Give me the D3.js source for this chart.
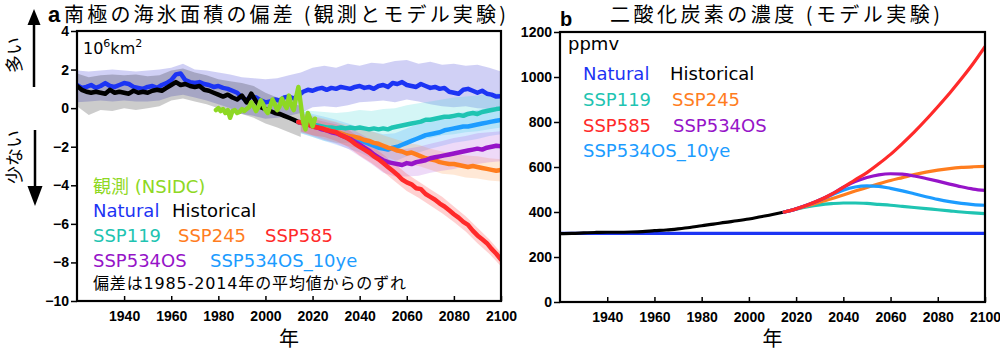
<!DOCTYPE html>
<html><head><meta charset="utf-8">
<script src="https://cdn.jsdelivr.net/npm/d3@7"></script>
<style>body{margin:0;background:#fff}svg{display:block}</style>
</head><body><svg id="c" width="1000" height="353"></svg>
<script>
// ---------------- DATA: panel a (sea-ice extent anomaly, 10^6 km2) ----------------
const iceStart = 1920, iceStep = 2;
const naturalIce = [
 1.20,1.05,1.10,1.20,1.05,1.15,1.30,1.15,1.10,1.20,
 1.30,1.25,1.10,1.05,1.00,1.10,1.15,1.05,1.20,1.30,
 1.45,1.75,1.80,1.45,1.35,1.30,1.35,1.25,1.20,1.10,
 1.15,1.05,1.00,0.90,0.80,0.55,0.42,0.60,0.55,0.40,
 0.30,0.35,0.45,0.40,0.55,0.60,0.50,0.65,0.85,0.95,
 0.90,1.00,1.05,0.95,1.05,1.00,1.10,1.05,1.00,1.10,
 1.15,1.05,1.10,1.00,1.15,1.20,1.10,1.30,1.25,1.35,
 1.20,1.15,1.10,1.25,1.15,1.05,1.10,1.00,1.05,0.85,
 0.80,0.75,0.95,1.00,0.90,0.80,0.90,0.75,0.70,0.60,
 0.62];
const historicalIce = [
 1.15,0.95,0.85,0.80,0.85,0.80,0.75,0.95,0.80,0.85,
 0.80,0.75,0.90,0.80,0.85,0.80,0.90,0.95,0.90,1.05,
 1.20,1.35,1.20,1.25,1.15,1.10,1.15,0.95,0.90,0.80,
 0.70,0.60,0.70,0.55,0.45,0.65,0.30,0.75,0.35,0.05,
 -0.05,-0.15,-0.25,-0.30,-0.40,-0.50,-0.60,-0.72];
const sspStart = 2014;
const ssp119Ice = [
 -0.72,-0.75,-0.80,-0.85,-0.90,-0.95,-1.00,-1.00,-1.05,-1.00,
 -1.05,-1.00,-1.05,-1.00,-1.05,-1.10,-1.05,-1.10,-1.05,-1.10,
 -1.00,-0.95,-0.90,-0.85,-0.80,-0.75,-0.70,-0.60,-0.60,-0.55,
 -0.50,-0.45,-0.45,-0.40,-0.35,-0.40,-0.30,-0.25,-0.30,-0.20,
 -0.15,-0.10,-0.05,-0.02];
const ssp245Ice = [
 -0.72,-0.80,-0.85,-0.90,-1.00,-1.05,-1.10,-1.20,-1.25,-1.30,
 -1.40,-1.45,-1.50,-1.55,-1.65,-1.70,-1.80,-1.85,-1.95,-2.05,
 -2.10,-2.20,-2.25,-2.35,-2.30,-2.40,-2.50,-2.60,-2.65,-2.70,
 -2.80,-2.85,-2.90,-2.90,-2.95,-3.00,-3.05,-3.00,-3.05,-3.10,
 -3.15,-3.20,-3.25,-3.20];
const ssp585Ice = [
 -0.72,-0.75,-0.85,-0.95,-1.00,-1.05,-1.15,-1.20,-1.25,-1.40,
 -1.50,-1.65,-1.85,-2.00,-2.15,-2.30,-2.50,-2.65,-2.85,-3.05,
 -3.25,-3.45,-3.70,-3.85,-3.95,-4.15,-4.20,-4.45,-4.60,-4.75,
 -4.95,-5.10,-5.30,-5.50,-5.68,-5.90,-6.05,-6.35,-6.60,-6.80,
 -7.00,-7.30,-7.55,-7.85];
const ssp534Ice = [
 -0.72,-0.78,-0.85,-0.95,-1.00,-1.10,-1.15,-1.25,-1.30,-1.40,
 -1.50,-1.60,-1.75,-1.90,-2.05,-2.20,-2.40,-2.55,-2.70,-2.80,
 -2.85,-2.90,-2.95,-2.85,-2.90,-2.80,-2.75,-2.70,-2.60,-2.55,
 -2.50,-2.45,-2.40,-2.35,-2.30,-2.25,-2.20,-2.15,-2.10,-2.15,
 -2.05,-2.00,-1.95,-1.97];
const ssp534_10Ice = [
 -0.72,-0.78,-0.85,-0.90,-0.95,-1.05,-1.10,-1.20,-1.25,-1.35,
 -1.40,-1.50,-1.55,-1.65,-1.75,-1.85,-1.95,-2.05,-2.10,-2.15,
 -2.05,-2.00,-1.90,-1.80,-1.70,-1.60,-1.50,-1.40,-1.35,-1.30,
 -1.25,-1.15,-1.10,-1.05,-1.00,-0.95,-0.95,-0.90,-0.85,-0.80,
 -0.75,-0.70,-0.65,-0.62];
const obsStart = 1979;
const obsIce = [
 -0.10,0.00,-0.15,-0.05,-0.25,-0.10,-0.50,-0.15,-0.10,-0.25,
 -0.20,-0.05,-0.15,-0.05,0.05,0.30,0.10,-0.15,0.05,0.40,
 0.20,-0.10,-0.25,0.10,0.45,0.20,-0.10,0.10,0.50,0.20,
 0.00,0.65,0.15,-0.10,0.55,1.10,0.20,-0.70,-1.10,-0.25,
 -0.55,-0.95,-0.55];
// spread bands (every 5 years)
const bandStep = 5;
const naturalBandStart = 1920;
const naturalHi = [1.95,1.90,1.95,2.00,1.95,1.90,1.95,2.00,2.10,2.30,2.00,1.95,1.85,1.75,1.60,1.55,1.50,1.55,1.70,1.85,
 2.10,2.20,2.10,2.30,2.20,2.35,2.30,2.45,2.50,2.30,2.40,2.25,2.30,2.20,2.25,2.10,1.90];
const naturalLo = [0.30,0.35,0.40,0.35,0.40,0.35,0.35,0.40,0.60,0.70,0.55,0.40,0.20,0.00,-0.30,-0.40,-0.55,-0.50,-0.40,-0.25,
 0.05,0.10,0.05,0.15,0.30,0.35,0.40,0.30,0.45,0.35,0.20,0.10,0.05,0.10,0.00,-0.05,-0.10];
const historicalBandStart = 1920;
const historicalHi = [1.80,1.60,1.70,1.75,1.70,1.75,1.65,1.70,1.95,2.05,1.85,1.70,1.50,1.40,1.30,1.15,0.80,0.55,0.35,0.10];
const historicalLo = [0.10,-0.35,-0.10,-0.15,0.00,-0.10,0.00,0.10,0.40,0.50,0.35,0.20,0.00,-0.15,-0.30,-0.50,-0.80,-1.00,-1.25,-1.50];
const sspBandStart = 2015;
const ssp119Hi = [-0.10,-0.15,-0.20,-0.25,-0.20,-0.10,-0.15,-0.05,0.00,0.15,0.25,0.35,0.45,0.55,0.60,0.65,0.75,0.80];
const ssp119Lo = [-1.30,-1.50,-1.70,-1.80,-1.80,-1.85,-1.95,-1.95,-1.90,-1.80,-1.65,-1.55,-1.40,-1.35,-1.25,-1.20,-1.10,-1.00];
const ssp534_10Hi = [-0.15,-0.30,-0.45,-0.60,-0.80,-1.00,-1.20,-1.35,-1.30,-1.05,-0.80,-0.60,-0.45,-0.30,-0.20,-0.10,0.00,0.05];
const ssp534_10Lo = [-1.30,-1.50,-1.70,-1.90,-2.10,-2.30,-2.60,-2.80,-2.75,-2.50,-2.30,-2.10,-1.95,-1.80,-1.70,-1.60,-1.45,-1.35];
const ssp245Hi = [-0.25,-0.40,-0.55,-0.70,-0.90,-1.00,-1.20,-1.40,-1.60,-1.80,-1.90,-2.10,-2.25,-2.35,-2.45,-2.50,-2.60,-2.65];
const ssp245Lo = [-1.25,-1.40,-1.60,-1.80,-1.95,-2.10,-2.30,-2.50,-2.70,-2.90,-3.00,-3.20,-3.40,-3.45,-3.60,-3.65,-3.75,-3.80];
const ssp534Hi = [-0.25,-0.45,-0.60,-0.75,-1.00,-1.30,-1.65,-2.00,-2.15,-2.10,-2.00,-1.85,-1.70,-1.55,-1.45,-1.30,-1.25,-1.20];
const ssp534Lo = [-1.25,-1.45,-1.65,-1.85,-2.10,-2.50,-2.90,-3.35,-3.55,-3.55,-3.50,-3.35,-3.25,-3.15,-3.00,-2.90,-2.80,-2.75];
const ssp585Hi = [-0.30,-0.55,-0.70,-0.85,-1.10,-1.55,-1.95,-2.40,-2.90,-3.40,-3.80,-4.20,-4.60,-5.10,-5.60,-6.20,-6.80,-7.50];
const ssp585Lo = [-1.20,-1.40,-1.50,-1.70,-2.00,-2.45,-2.85,-3.30,-3.80,-4.30,-4.65,-5.05,-5.45,-5.90,-6.40,-7.00,-7.55,-8.20];
const iceYTicks = [4,2,0,-2,-4,-6,-8,-10];
const yearTicks = [1940,1960,1980,2000,2020,2040,2060,2080,2100];

// ---------------- DATA: panel b (CO2 concentration, ppmv) ----------------
const co2NaturalYears = [1920, 2100];
const co2Natural = [305, 305];
const co2HistYears = [1920,1925,1930,1935,1940,1945,1950,1955,1960,1965,1970,1975,1980,1985,1990,1995,2000,2005,2010,2015];
const co2Hist = [304,305,307,309,310,310,311,313,317,320,325,331,339,346,354,361,369,379,389,400];
const co2SspYears = [2015,2020,2025,2030,2035,2040,2045,2050,2055,2060,2065,2070,2075,2080,2085,2090,2095,2100];
const co2Ssp119 = [400,413,424,432,437,440,440,438,434,430,425,420,415,410,405,400,396,393];
const co2Ssp245 = [400,413,428,444,459,476,493,509,525,540,553,566,577,586,593,598,601,603];
const co2Ssp585 = [400,414,432,453,479,510,543,575,614,656,704,755,810,868,928,992,1060,1135];
const co2Ssp534 = [400,414,432,453,479,510,535,553,565,570,568,560,549,537,524,512,502,496];
const co2Ssp534_10 = [400,414,432,453,475,497,511,516,514,505,494,481,468,456,446,438,433,430];
const co2YTicks = [0,200,400,600,800,1000,1200];

// ---------------- COLOURS ----------------
const C = {natural:"#1c34f4", hist:"#000000", s119:"#1fc4b2", s245:"#ff7d1e", s585:"#ff2a2a",
           s534:"#9614c8", s534_10:"#1c9cff", obs:"#8ed824"};
const BAND = {natural:"rgba(110,110,225,0.32)", hist:"rgba(0,0,0,0.2)", s119:"rgba(60,215,215,0.22)",
              s534_10:"rgba(60,160,255,0.22)", s245:"rgba(255,150,70,0.22)", s534:"rgba(170,70,220,0.2)",
              s585:"rgba(255,70,70,0.25)"};

const svg = d3.select("#c");
const pts = (start, step, arr) => arr.map((v,i)=>[start+i*step, v]);
const zipPts = (xs, ys) => xs.map((x,i)=>[x, ys[i]]);
const tickFont = "'Liberation Sans', Arial, sans-serif";
const legFont = "'DejaVu Sans', 'Noto Sans CJK JP', sans-serif";
const jpFont = "'Noto Sans CJK JP', sans-serif";

function frameAxes(g, x, y, yTicks, L, R, T, B, id) {
  g.append("defs").append("clipPath").attr("id", id).append("rect")
    .attr("x", L).attr("y", T).attr("width", R-L).attr("height", B-T);
  const ya = g.append("g").attr("transform", `translate(${L},0)`)
    .call(d3.axisLeft(y).tickValues(yTicks).tickSize(6).tickPadding(2).tickFormat(d3.format("d")));
  const xa = g.append("g").attr("transform", `translate(0,${B})`)
    .call(d3.axisBottom(x).tickValues(yearTicks).tickSize(-5).tickPadding(10).tickFormat(d3.format("d")));
  [ya, xa].forEach(a => {
    a.select(".domain").remove();
    a.selectAll("line").attr("stroke", "#000").attr("stroke-width", 1.5);
    a.selectAll("text").attr("font-family", tickFont).attr("font-weight", "bold")
      .attr("font-size", 14).attr("fill", "#000");
  });
}
function frameRect(g, L, R, T, B) {
  g.append("rect").attr("x", L).attr("y", T).attr("width", R-L).attr("height", B-T)
    .attr("fill", "none").attr("stroke", "#000").attr("stroke-width", 2.2);
}

// ================= PANEL A =================
{
  const L = 77, R = 501, T = 31, B = 301;
  const x = d3.scaleLinear().domain([1920, 2100]).range([L, R]);
  const y = d3.scaleLinear().domain([-10, 4]).range([B, T]);
  const g = svg.append("g");
  frameAxes(g, x, y, iceYTicks, L, R, T, B, "clipA");
  const plot = g.append("g").attr("clip-path", "url(#clipA)");
  const area = d3.area().x(d=>x(d[0])).y0(d=>y(d[1])).y1(d=>y(d[2]));
  const band = (start, hi, lo, col) => plot.append("path")
    .datum(hi.map((h,i)=>[start+i*bandStep, lo[i], h])).attr("d", area).attr("fill", col);
  band(naturalBandStart, naturalHi, naturalLo, BAND.natural);
  band(historicalBandStart, historicalHi, historicalLo, BAND.hist);
  band(sspBandStart, ssp119Hi, ssp119Lo, BAND.s119);
  band(sspBandStart, ssp534_10Hi, ssp534_10Lo, BAND.s534_10);
  band(sspBandStart, ssp245Hi, ssp245Lo, BAND.s245);
  band(sspBandStart, ssp534Hi, ssp534Lo, BAND.s534);
  band(sspBandStart, ssp585Hi, ssp585Lo, BAND.s585);
  const line = d3.line().x(d=>x(d[0])).y(d=>y(d[1]));
  const drawLine = (data, col, w) => plot.append("path").datum(data).attr("d", line)
    .attr("fill", "none").attr("stroke", col).attr("stroke-width", w)
    .attr("stroke-linejoin", "round").attr("stroke-linecap", "round");
  drawLine(pts(iceStart, iceStep, naturalIce), C.natural, 4.5);
  drawLine(pts(iceStart, iceStep, historicalIce), C.hist, 4.5);
  drawLine(pts(sspStart, iceStep, ssp119Ice), C.s119, 4.5);
  drawLine(pts(sspStart, iceStep, ssp534_10Ice), C.s534_10, 4.5);
  drawLine(pts(sspStart, iceStep, ssp245Ice), C.s245, 4.5);
  drawLine(pts(sspStart, iceStep, ssp534Ice), C.s534, 4.5);
  drawLine(pts(sspStart, iceStep, ssp585Ice), C.s585, 4.5);
  drawLine(pts(obsStart, 1, obsIce), C.obs, 4.5);
  frameRect(g, L, R, T, B);

  // unit label
  const u = g.append("text").attr("x", 83).attr("y", 54).attr("font-family", legFont).attr("font-size", 16).attr("fill", "#000");
  u.append("tspan").text("10");
  u.append("tspan").attr("dy", -7).attr("font-size", 11).text("6");
  u.append("tspan").attr("dy", 7).text("km");
  u.append("tspan").attr("dy", -7).attr("font-size", 11).text("2");

  const leg = (t, col, lx, ly, fs, tl) => {
    const e = g.append("text").attr("x", lx).attr("y", ly).attr("font-family", legFont)
      .attr("font-size", fs).attr("fill", col).text(t);
    if (tl) e.attr("textLength", tl).attr("lengthAdjust", "spacing");
  };
  leg("観測 (NSIDC)", C.obs, 93, 193, 18);
  leg("Natural", C.natural, 93, 217, 18);
  leg("Historical", "#000", 172, 217, 18);
  leg("SSP119", C.s119, 93, 242, 18);
  leg("SSP245", C.s245, 178, 242, 18);
  leg("SSP585", C.s585, 265, 242, 18);
  leg("SSP534OS", C.s534, 93, 267, 18);
  leg("SSP534OS_10ye", C.s534_10, 210, 267, 18);
  leg("偏差は1985-2014年の平均値からのずれ", "#000", 93, 289, 16, 313);

  // titles
  g.append("text").attr("x", 48).attr("y", 22).attr("font-family", tickFont).attr("font-weight", "bold")
    .attr("font-size", 22).text("a");
  g.append("text").attr("x", 64).attr("y", 22).attr("font-family", jpFont).attr("font-size", 20)
    .attr("textLength", 442).attr("lengthAdjust", "spacing").text("南極の海氷面積の偏差 (観測とモデル実験)");
  g.append("text").attr("x", (L+R)/2).attr("y", 346).attr("text-anchor", "middle")
    .attr("font-family", jpFont).attr("font-size", 20).text("年");

  // side arrows
  g.append("line").attr("x1", 34).attr("x2", 34).attr("y1", 87).attr("y2", 22).attr("stroke", "#000").attr("stroke-width", 2.5);
  g.append("path").attr("d", "M34,9 L27.5,25 L40.5,25 Z").attr("fill", "#000");
  g.append("line").attr("x1", 35).attr("x2", 35).attr("y1", 130).attr("y2", 190).attr("stroke", "#000").attr("stroke-width", 2.5);
  g.append("path").attr("d", "M35,206 L27.5,186 L42.5,186 Z").attr("fill", "#000");
  g.append("text").attr("transform", "translate(21,55) rotate(-90)").attr("text-anchor", "middle")
    .attr("font-family", jpFont).attr("font-size", 18).text("多い");
  g.append("text").attr("transform", "translate(21,157) rotate(-90)").attr("text-anchor", "middle")
    .attr("font-family", jpFont).attr("font-size", 18).text("少ない");
}

// ================= PANEL B =================
{
  const L = 560, R = 985, T = 32, B = 302;
  const x = d3.scaleLinear().domain([1920, 2100]).range([L, R]);
  const y = d3.scaleLinear().domain([0, 1200]).range([B, T]);
  const g = svg.append("g");
  frameAxes(g, x, y, co2YTicks, L, R, T, B, "clipB");
  const plot = g.append("g").attr("clip-path", "url(#clipB)");
  const line = d3.line().x(d=>x(d[0])).y(d=>y(d[1])).curve(d3.curveMonotoneX);
  const drawLine = (xs, ys, col) => plot.append("path").datum(zipPts(xs, ys)).attr("d", line)
    .attr("fill", "none").attr("stroke", col).attr("stroke-width", 3.2).attr("stroke-linecap", "round");
  drawLine(co2NaturalYears, co2Natural, C.natural);
  drawLine(co2HistYears, co2Hist, C.hist);
  drawLine(co2SspYears, co2Ssp119, C.s119);
  drawLine(co2SspYears, co2Ssp245, C.s245);
  drawLine(co2SspYears, co2Ssp534_10, C.s534_10);
  drawLine(co2SspYears, co2Ssp534, C.s534);
  drawLine(co2SspYears, co2Ssp585, C.s585);
  frameRect(g, L, R, T, B);

  const leg = (t, col, lx, ly) => g.append("text").attr("x", lx).attr("y", ly)
    .attr("font-family", legFont).attr("font-size", 18).attr("fill", col).text(t);
  leg("ppmv", "#000", 568, 50);
  leg("Natural", C.natural, 583, 80);
  leg("Historical", "#000", 670, 80);
  leg("SSP119", C.s119, 583, 106);
  leg("SSP245", C.s245, 672, 106);
  leg("SSP585", C.s585, 583, 132);
  leg("SSP534OS", C.s534, 673, 132);
  leg("SSP534OS_10ye", C.s534_10, 583, 157);

  g.append("text").attr("x", 560).attr("y", 26).attr("font-family", tickFont).attr("font-weight", "bold")
    .attr("font-size", 20).text("b");
  g.append("text").attr("x", 610).attr("y", 22).attr("font-family", jpFont).attr("font-size", 20)
    .attr("textLength", 330).attr("lengthAdjust", "spacing").text("二酸化炭素の濃度 (モデル実験)");
  g.append("text").attr("x", (L+R)/2).attr("y", 346).attr("text-anchor", "middle")
    .attr("font-family", jpFont).attr("font-size", 20).text("年");
}
</script></body></html>
